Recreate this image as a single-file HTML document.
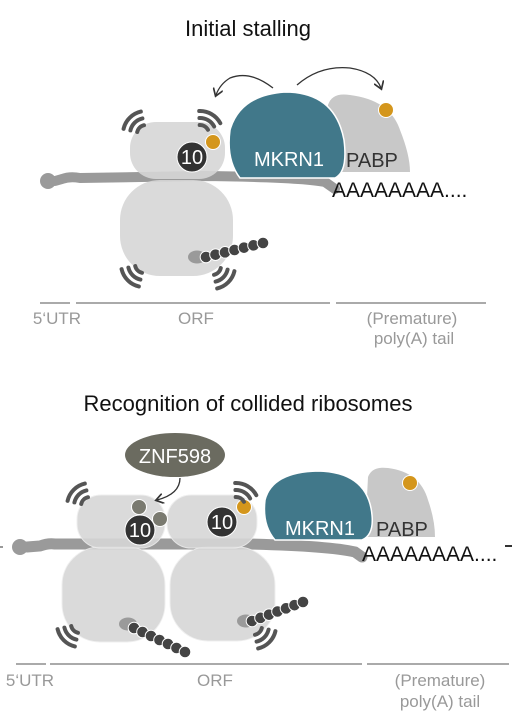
<!DOCTYPE html>
<html><head><meta charset="utf-8"><style>
html,body{margin:0;padding:0;background:#fff;}
svg{display:block;font-family:"Liberation Sans",sans-serif;}
</style></head><body>
<svg id="s" width="514" height="716" viewBox="0 0 514 716">
<defs><marker id="ah" markerWidth="8" markerHeight="8" refX="5" refY="4" orient="auto"><path d="M0,0 L6,4 L0,8" fill="none" stroke="#333" stroke-width="1.3"/></marker></defs>
<text x="248" y="36" font-size="22" text-anchor="middle" fill="#111">Initial stalling</text>
<g>
<path d="M55,181 L62,179 Q70,176 80,178 L200,176 Q300,177 325,182 L335,189" stroke="#9a9a9a" stroke-width="10" fill="none" stroke-linecap="round"/>
<circle cx="48" cy="181" r="8" fill="#9a9a9a"/>
<rect x="120" y="180" width="113" height="96" rx="40" fill="#d6d6d6" opacity="0.9"/>
<rect x="130" y="122" width="95" height="57" rx="26" fill="#d6d6d6" opacity="0.9"/>
<path d="M325,172 L328,105 Q332,92 350,95 Q390,100 400,130 Q410,155 410,172 Z" fill="#c8c8c8"/>
<path d="M240,178 Q226,160 230,130 Q240,95 285,92 Q335,92 344,140 Q348,172 335,178 Z" fill="#41788a" stroke="#fff" stroke-width="1.5"/>
<text x="289" y="166" font-size="20" fill="#fff" text-anchor="middle">MKRN1</text>
<text x="346" y="167" font-size="20" fill="#333">PABP</text>
<circle cx="386" cy="110" r="7.5" fill="#d4961c" stroke="#fff"/>
<circle cx="192" cy="157" r="15" fill="#333" stroke="#fff"/>
<text x="192" y="164" font-size="20" fill="#fff" text-anchor="middle">10</text>
<circle cx="213" cy="142" r="7.5" fill="#d4961c" stroke="#fff"/>
<text x="332" y="197" font-size="21" fill="#111">AAAAAAAA....</text>
<path d="M273,88 Q250,70 230,78 Q220,84 216,95" fill="none" stroke="#333" stroke-width="1.3" marker-end="url(#ah)"/>
<path d="M297,85 Q320,65 350,68 Q375,72 381,88" fill="none" stroke="#333" stroke-width="1.3" marker-end="url(#ah)"/>
<g stroke="#aaa" stroke-width="2"><line x1="40" y1="303" x2="70" y2="303"/><line x1="76" y1="303" x2="330" y2="303"/><line x1="336" y1="303" x2="486" y2="303"/></g>
<g font-size="17" fill="#999" text-anchor="middle">
<text x="57" y="324">5‘UTR</text>
<text x="196" y="324">ORF</text>
<text x="412" y="324">(Premature)</text>
<text x="414" y="344">poly(A) tail</text>
</g>
</g>
<text x="248" y="411" font-size="22" text-anchor="middle" fill="#111">Recognition of collided ribosomes</text>
<g>
<line x1="0" y1="547" x2="3" y2="547" stroke="#999" stroke-width="2"/>
<line x1="505" y1="546" x2="512" y2="546" stroke="#333" stroke-width="2"/>
<path d="M27,547 L40,546 Q48,543 55,544 L250,544 Q330,546 355,552 L362,557" stroke="#9a9a9a" stroke-width="11" fill="none" stroke-linecap="round"/>
<circle cx="20" cy="547" r="8" fill="#9a9a9a"/>
<rect x="62" y="547" width="103" height="95" rx="38" fill="#d6d6d6" opacity="0.9" stroke="#eee"/>
<rect x="170" y="547" width="105" height="94" rx="38" fill="#d6d6d6" opacity="0.9" stroke="#eee"/>
<rect x="77" y="495" width="88" height="53" rx="24" fill="#d6d6d6" opacity="0.9" stroke="#eee"/>
<rect x="167" y="495" width="90" height="53" rx="24" fill="#d6d6d6" opacity="0.9" stroke="#eee"/>
<path d="M365,537 L368,477 Q372,466 388,468 Q420,472 428,500 Q435,520 435,537 Z" fill="#c8c8c8"/>
<path d="M275,540 Q262,525 265,500 Q272,472 318,471 Q368,472 372,515 Q374,535 362,540 Z" fill="#41788a" stroke="#fff" stroke-width="1.5"/>
<text x="320" y="535" font-size="20" fill="#fff" text-anchor="middle">MKRN1</text>
<text x="376" y="536" font-size="20" fill="#333">PABP</text>
<circle cx="410" cy="483" r="7.5" fill="#d4961c" stroke="#fff"/>
<circle cx="140" cy="530" r="15" fill="#333" stroke="#fff"/>
<text x="140" y="537" font-size="20" fill="#fff" text-anchor="middle">10</text>
<circle cx="139" cy="507" r="7.5" fill="#7a7a70" stroke="#fff"/>
<circle cx="160" cy="519" r="7.5" fill="#7a7a70" stroke="#fff"/>
<circle cx="222" cy="522" r="15" fill="#333" stroke="#fff"/>
<text x="222" y="529" font-size="20" fill="#fff" text-anchor="middle">10</text>
<circle cx="244" cy="507" r="7.5" fill="#d4961c" stroke="#fff"/>
<ellipse cx="175" cy="455" rx="50" ry="22" fill="#6b6b60"/>
<text x="175" y="463" font-size="20" fill="#fff" text-anchor="middle">ZNF598</text>
<path d="M180,478 Q180,494 157,500" fill="none" stroke="#333" stroke-width="1.3" marker-end="url(#ah)"/>
<text x="362" y="561" font-size="21" fill="#111">AAAAAAAA....</text>
<g stroke="#aaa" stroke-width="2"><line x1="16" y1="664" x2="46" y2="664"/><line x1="50" y1="664" x2="362" y2="664"/><line x1="367" y1="664" x2="509" y2="664"/></g>
<g font-size="17" fill="#999" text-anchor="middle">
<text x="30" y="686">5‘UTR</text>
<text x="215" y="686">ORF</text>
<text x="440" y="686">(Premature)</text>
<text x="440" y="707">poly(A) tail</text>
</g>
</g>
<g id="extras"></g>
</svg>
<script>
const NS="http://www.w3.org/2000/svg";
const ex=document.getElementById('extras');
function mk(t,a){const e=document.createElementNS(NS,t);for(const k in a)e.setAttribute(k,a[k]);ex.appendChild(e);return e;}
// signal arcs: [cx, cy, direction deg]
const arcs=[[146,134,225],[200,134,300],[144,264,135],[212,266,45],[90,506,225],[236,506,300],[80,624,135],[253,626,45]];
arcs.forEach(a=>{[9,16,23].forEach(r=>{
 const d0=(a[2]-32)*Math.PI/180,d1=(a[2]+32)*Math.PI/180;
 const x0=a[0]+r*Math.cos(d0),y0=a[1]+r*Math.sin(d0),x1=a[0]+r*Math.cos(d1),y1=a[1]+r*Math.sin(d1);
 const p=mk('path',{d:`M${x0},${y0} A${r},${r} 0 0 1 ${x1},${y1}`,fill:'none',stroke:'#555','stroke-width':4,'stroke-linecap':'round'});
 
 
});});
// nascent chains: [cupX,cupY,startX,startY,endX,endY]
const chains=[[197,257,206,257,263,243],[128,624,134,628,185,652],[246,621,252,621,303,602]];
chains.forEach(c=>{
 const cup=mk('ellipse',{cx:c[0],cy:c[1],rx:9,ry:6.5,fill:'#9a9a9a'});
 
 
 for(let i=0;i<7;i++){const t=i/6;
  const d=mk('circle',{cx:c[2]+(c[4]-c[2])*t,cy:c[3]+(c[5]-c[3])*t,r:5.8,fill:'#444',stroke:'#fff','stroke-width':1});
  
  
 }
});
</script>
</body></html>
